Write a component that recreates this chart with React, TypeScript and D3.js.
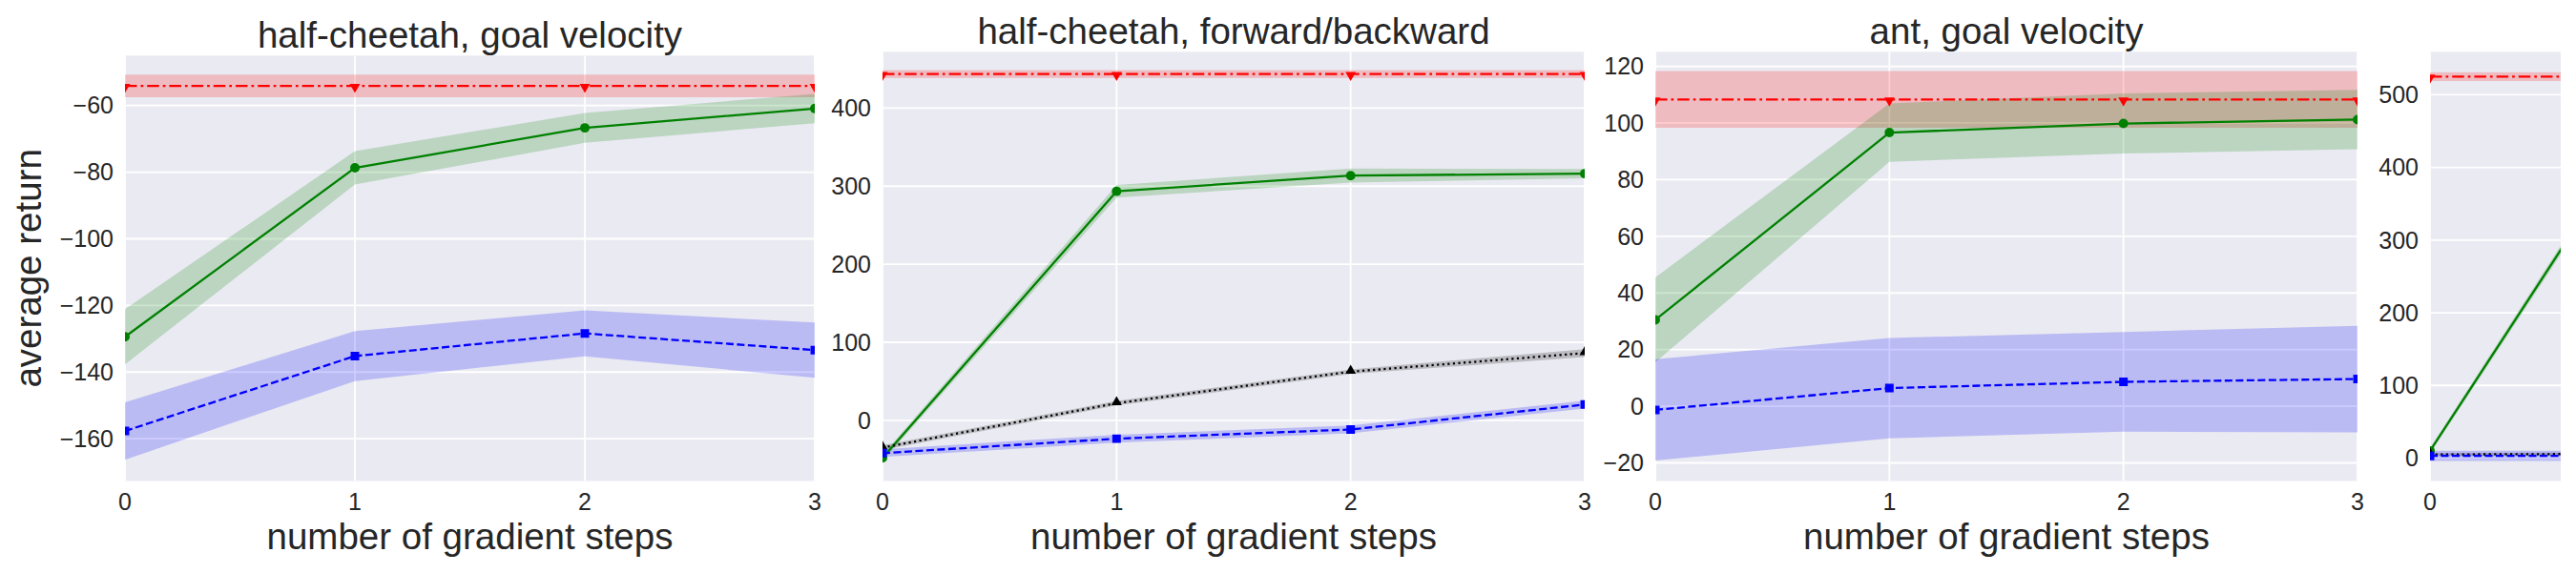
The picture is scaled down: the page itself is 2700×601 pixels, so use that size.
import React from 'react';
import * as d3 from 'd3';

const steps = [0, 1, 2, 3];

// half-cheetah, goal velocity
const hcVelOracle = [-54.1, -54.1, -54.1, -54.1];
const hcVelOracleSd = [3.4, 3.4, 3.4, 3.4];
const hcVelMaml = [-129.4, -78.7, -66.7, -60.9];
const hcVelMamlSd = [8.3, 5.0, 4.5, 4.4];
const hcVelPretrained = [-157.7, -135.2, -128.4, -133.4];
const hcVelPretrainedSd = [8.6, 7.5, 6.9, 8.3];
const hcVelTicks = [-160, -140, -120, -100, -80, -60];

// half-cheetah, forward/backward
const hcDirOracle = [443.6, 443.6, 443.6, 443.6];
const hcDirOracleSd = [5, 5, 5, 5];
const hcDirMaml = [-48, 293.4, 313.5, 316];
const hcDirMamlSd = [4, 8, 9, 6];
const hcDirRandom = [-35, 22, 62.3, 86.2];
const hcDirRandomSd = [3, 3, 3, 5];
const hcDirPretrained = [-42, -23.5, -11.7, 20.2];
const hcDirPretrainedSd = [5, 5, 5, 5];
const hcDirTicks = [0, 100, 200, 300, 400];

// ant, goal velocity
const antVelOracle = [108.3, 108.3, 108.3, 108.3];
const antVelOracleSd = [10, 10, 10, 10];
const antVelMaml = [30.5, 96.6, 99.8, 101.2];
const antVelMamlSd = [15, 10.3, 10.6, 10.5];
const antVelPretrained = [-1.3, 6.4, 8.6, 9.6];
const antVelPretrainedSd = [17.9, 17.7, 17.6, 18.8];
const antVelTicks = [-20, 0, 20, 40, 60, 80, 100, 120];

// ant, forward/backward (cut off at the right edge)
const antDirOracle = [525, 525, 525, 525];
const antDirOracleSd = [6, 6, 6, 6];
const antDirMaml = [10, 505, 520, 530];
const antDirMamlSd = [4, 8, 8, 8];
const antDirRandom = [5, 6, 6, 7];
const antDirRandomSd = [2, 2, 2, 2];
const antDirPretrained = [3, 3, 4, 4];
const antDirPretrainedSd = [7, 7, 7, 7];
const antDirTicks = [0, 100, 200, 300, 400, 500];

const stepTicks = [0, 1, 2, 3];

type Series = {
  mean: number[];
  sd: number[];
  color: string;
  dash: string;
  marker: 'down' | 'up' | 'circle' | 'square';
};

type PanelSpec = {
  title?: string;
  left: number;
  top: number;
  width: number;
  clipWidth: number;
  domain: [number, number];
  ticks: number[];
  series: Series[];
  ylabel?: boolean;
};

const oracle = (mean: number[], sd: number[]): Series => ({ mean, sd, color: '#ff0000', dash: '12.5,4,2.7,4', marker: 'down' });
const maml = (mean: number[], sd: number[]): Series => ({ mean, sd, color: '#008000', dash: '', marker: 'circle' });
const pretrained = (mean: number[], sd: number[]): Series => ({ mean, sd, color: '#0000ff', dash: '8,3.5', marker: 'square' });
const random = (mean: number[], sd: number[]): Series => ({ mean, sd, color: '#000000', dash: '2.2,3.4', marker: 'up' });

const BOTTOM = 504.5;
const TEXT = '#262626';
const FONT = '"Liberation Sans", Arial, sans-serif';

const panels: PanelSpec[] = [
  {
    title: 'half-cheetah, goal velocity', left: 131, top: 58.3, width: 723, clipWidth: 723,
    domain: [-172.7, -45], ticks: hcVelTicks, ylabel: true,
    series: [oracle(hcVelOracle, hcVelOracleSd), maml(hcVelMaml, hcVelMamlSd), pretrained(hcVelPretrained, hcVelPretrainedSd)],
  },
  {
    title: 'half-cheetah, forward/backward', left: 925, top: 54.4, width: 736, clipWidth: 736,
    domain: [-77.7, 472], ticks: hcDirTicks,
    series: [oracle(hcDirOracle, hcDirOracleSd), maml(hcDirMaml, hcDirMamlSd), random(hcDirRandom, hcDirRandomSd), pretrained(hcDirPretrained, hcDirPretrainedSd)],
  },
  {
    title: 'ant, goal velocity', left: 1735, top: 54.4, width: 736, clipWidth: 736,
    domain: [-26.4, 125.1], ticks: antVelTicks,
    series: [oracle(antVelOracle, antVelOracleSd), maml(antVelMaml, antVelMamlSd), pretrained(antVelPretrained, antVelPretrainedSd)],
  },
  {
    left: 2547, top: 54.4, width: 736, clipWidth: 137,
    domain: [-31.5, 559], ticks: antDirTicks,
    series: [oracle(antDirOracle, antDirOracleSd), maml(antDirMaml, antDirMamlSd), random(antDirRandom, antDirRandomSd), pretrained(antDirPretrained, antDirPretrainedSd)],
  },
];

const fmt = (v: number) => (v < 0 ? '\u2212' + Math.abs(v) : String(v));

const markerPath = (m: Series['marker']) => {
  if (m === 'circle') return d3.symbol(d3.symbolCircle, 78)()!;
  if (m === 'square') return d3.symbol(d3.symbolSquare, 80)()!;
  return d3.symbol(d3.symbolTriangle, 52)()!;
};

function Panel({ spec, idx }: { spec: PanelSpec; idx: number }) {
  const x = d3.scaleLinear().domain([0, 3]).range([spec.left, spec.left + spec.width]);
  const y = d3.scaleLinear().domain(spec.domain).range([BOTTOM, spec.top]);
  const clipId = `clip-${idx}`;
  const right = spec.left + spec.clipWidth;
  const visibleX = stepTicks.filter((t) => x(t) <= right + 0.5);

  const line = d3.line<number>().x((_, i) => x(steps[i])).y((d) => y(d));

  return (
    <g>
      <defs>
        <clipPath id={clipId}>
          <rect x={spec.left} y={spec.top} width={spec.clipWidth} height={BOTTOM - spec.top} />
        </clipPath>
      </defs>
      <rect x={spec.left} y={spec.top} width={spec.clipWidth} height={BOTTOM - spec.top} fill="#eaeaf2" />
      <g clipPath={`url(#${clipId})`}>
        {spec.ticks.map((t) => (
          <line key={'h' + t} x1={spec.left} x2={right} y1={y(t)} y2={y(t)} stroke="#ffffff" strokeWidth={1.8} />
        ))}
        {visibleX.map((t) => (
          <line key={'v' + t} x1={x(t)} x2={x(t)} y1={spec.top} y2={BOTTOM} stroke="#ffffff" strokeWidth={1.8} />
        ))}
        {spec.series.map((s, si) => {
          const area = d3.area<number>()
            .x((_, i) => x(steps[i]))
            .y0((d, i) => y(d - s.sd[i]))
            .y1((d, i) => y(d + s.sd[i]));
          return <path key={'a' + si} d={area(s.mean) || ''} fill={s.color} fillOpacity={0.2} stroke="none" />;
        })}
        {spec.series.map((s, si) => (
          <g key={'l' + si}>
            <path d={line(s.mean) || ''} fill="none" stroke={s.color} strokeWidth={2.3} strokeDasharray={s.dash || undefined} />
            {s.mean.map((v, i) => (
              <path
                key={i}
                d={markerPath(s.marker)}
                transform={`translate(${x(steps[i])},${y(v) + (s.marker === 'down' ? 1 : s.marker === 'up' ? -1 : 0)})${s.marker === 'down' ? ' rotate(180)' : ''}`}
                fill={s.color}
              />
            ))}
          </g>
        ))}
      </g>
      {spec.ticks.map((t) => (
        <text key={'yt' + t} x={spec.left - 12} y={y(t)} dy="0.35em" textAnchor="end" fontSize={25} fill={TEXT} fontFamily={FONT}>
          {fmt(t)}
        </text>
      ))}
      {visibleX.map((t) => (
        <text key={'xt' + t} x={x(t)} y={535} textAnchor="middle" fontSize={25} fill={TEXT} fontFamily={FONT}>
          {t}
        </text>
      ))}
      {spec.clipWidth === spec.width && (
        <text x={spec.left + spec.width / 2} y={576} textAnchor="middle" fontSize={38.5} fill={TEXT} fontFamily={FONT}>
          number of gradient steps
        </text>
      )}
      {spec.title && (
        <text x={spec.left + spec.width / 2} y={spec.top - 8.5} textAnchor="middle" fontSize={38.5} fill={TEXT} fontFamily={FONT}>
          {spec.title}
        </text>
      )}
      {spec.ylabel && (
        <text
          transform={`translate(43,${(spec.top + BOTTOM) / 2}) rotate(-90)`}
          textAnchor="middle"
          fontSize={38.5}
          fill={TEXT}
          fontFamily={FONT}
        >
          average return
        </text>
      )}
    </g>
  );
}

export default function App() {
  return (
    <svg
      width={2700}
      height={601}
      viewBox="0 0 2700 601"
      style={{ position: 'absolute', left: 0, top: 0, background: '#ffffff' }}
    >
      {panels.map((p, i) => (
        <Panel key={i} spec={p} idx={i} />
      ))}
    </svg>
  );
}
